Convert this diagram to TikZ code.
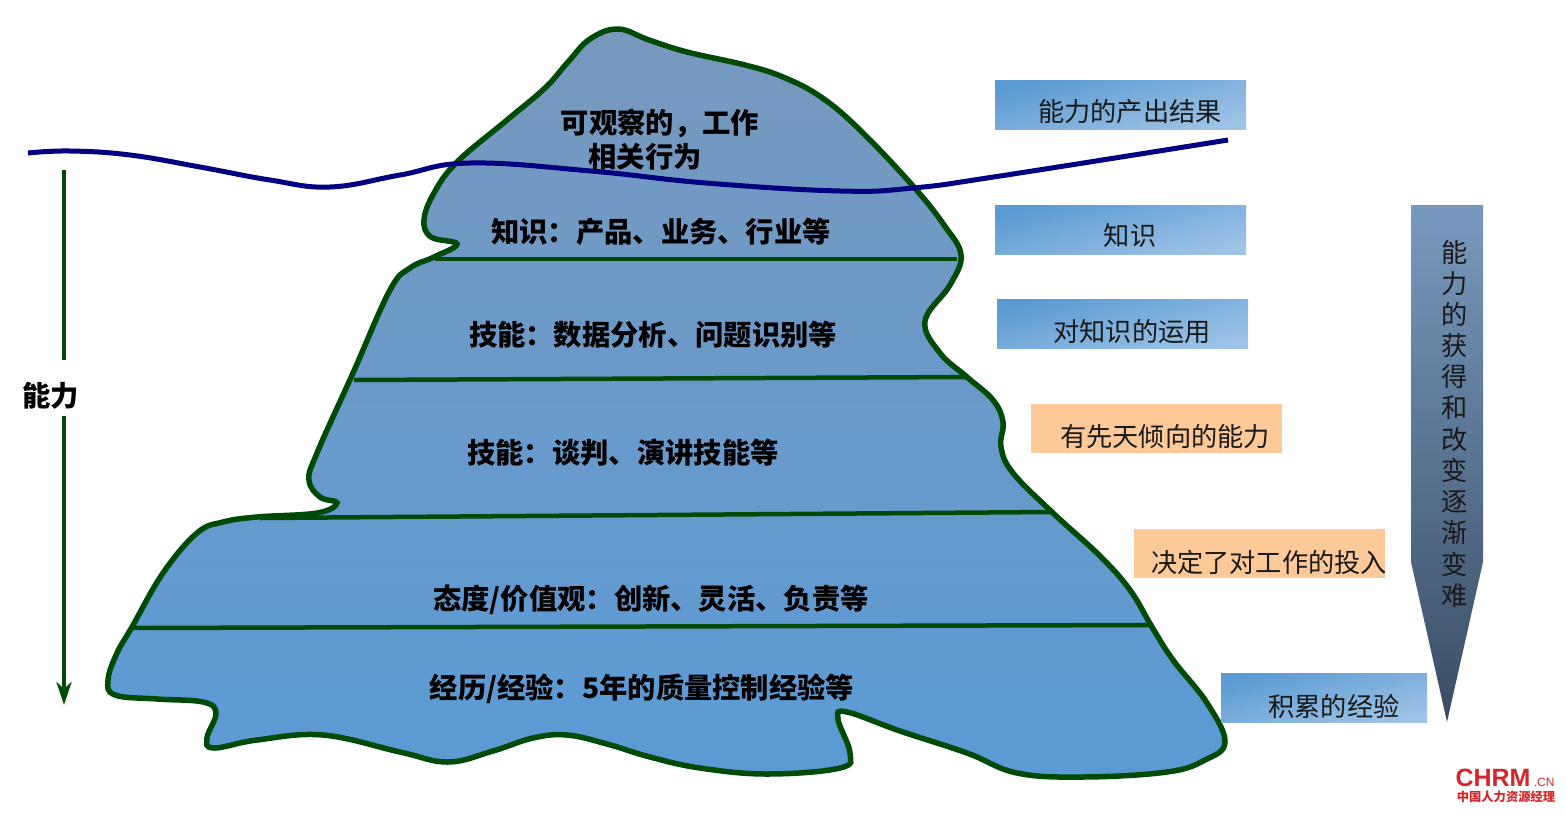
\documentclass[tikz,border=0pt]{standalone}
\usepackage{fontspec}
\setmainfont{Liberation Sans}
\newfontfamily\cjk{Noto Sans CJK SC}
\usetikzlibrary{positioning,arrows.meta}
\definecolor{bergtop}{HTML}{7899BE}
\definecolor{bergbot}{HTML}{5B9AD5}
\definecolor{berggreen}{HTML}{004A08}
\definecolor{sealine}{HTML}{000080}
\definecolor{boxa}{HTML}{5B9AD2}
\definecolor{boxb}{HTML}{9DC3E6}
\definecolor{boxorange}{HTML}{FDC998}
\definecolor{arrowtip}{HTML}{3A4C63}
\definecolor{logored}{HTML}{D4262A}
\tikzset{
	layertext/.style={font=\cjk\bfseries\fontsize{28.3}{32}\selectfont, inner sep=0},
	sidetext/.style={font=\cjk\fontsize{26.2}{30}\selectfont, inner sep=0, text=black!90},
	layerline/.style={draw=berggreen, line width=4.5pt},
	abilityline/.style={draw=berggreen, line width=4pt},
	bluebox/.style={shading=axis, left color=boxa, right color=boxb, shading angle=15},
}
\begin{document}
\begin{tikzpicture}[x=1pt,y=-1pt]
	\useasboundingbox (0,0) rectangle (1566,815);
	% iceberg
	\draw[berggreen, line width=5.5pt, top color=bergtop, bottom color=bergbot]
		plot[smooth cycle, tension=0.65] coordinates {
		(618,29) (649,40) (687,52) (745,65) (783,77) (821,97) (860,130) (913,186)
		(944,225) (961,255) (950,285) (925,321) (940,353) (967,377) (993,400)
		(1003,422) (1001,447) (1013,473) (1053,513) (1100,556) (1130,590) (1152,627)
		(1173,660) (1207,703) (1225,742) (1205,760) (1167,772) (1083,777) (1017,773)
		(967,753) (900,731) (847,712) (838,719) (850,753) (840,768)
		(767,774) (700,768) (650,757) (607,744) (567,735) (533,738) (493,751)
		(448,762) (400,752) (323,735) (257,740) (214,748) (207,738) (216,713) (203,702)
		(157,699) (115,695) (108,680) (117,653) (132,627) (163,573) (197,533) (223,522)
		(257,517) (317,513) (337,503) (320,497) (309,480) (317,453) (353,373) (390,290)
		(410,268) (434,257) (457,244) (431,237) (424,220) (434,193) (457,162) (507,120)
		(545,88) (568,62) (590,39)};
	% layers
	\foreach \n/\xa/\ya/\xb/\yb in {1/435/259/957/259,2/354/380/968/377,3/260/518/1053/512,4/130/628/1153/625} {
		\coordinate (la\n) at (\xa,\ya);
		\coordinate (lb\n) at (\xb,\yb);
		\draw[layerline] (la\n) -- (lb\n);
	};
	% sea level
	\draw[sealine, line width=5pt] plot[smooth, tension=0.7] coordinates {
		(28,153) (70,151) (130,155) (200,167) (270,180) (330,187) (400,175) (470,163)
		(591,171) (706,183) (840,191) (913,188) (1000,176) (1228,140)};
	\node[layertext] (obs1) at (660,123) {可观察的，工作};
	\node[layertext] (obs2) at (645,157) {相关行为};
	\foreach \x/\y/\t in {661/232/{知识：产品、业务、行业等},653/335/{技能：数据分析、问题识别等},623/453/{技能：谈判、演讲技能等},651/600/{态度/价值观：创新、灵活、负责等},642/689/{经历/经验：5年的质量控制经验等}} {
		\node[layertext] at (\x,\y) {\t};
	};
	% side boxes
	\foreach \n/\xa/\ya/\xb/\yb/\tx/\ty/\t in {
		a/995/80/1246/129/1130/112/能力的产出结果,
		b/995/205/1246/254/1130/236/知识,
		c/997/299/1248/348/1132/332/对知识的运用,
		f/1221/673/1427/722/1334/706/积累的经验} {
		\path[bluebox] (\xa,\ya) rectangle (\xb,\yb);
		\node[sidetext] (box\n) at (\tx,\ty) {\t};
	};
	\foreach \n/\xa/\ya/\xb/\yb/\tx/\ty/\t in {
		d/1031/404/1282/453/1165/437/有先天倾向的能力,
		e/1134/529/1385/578/1269/562/决定了对工作的投入} {
		\fill[boxorange] (\xa,\ya) rectangle (\xb,\yb);
		\node[sidetext] (box\n) at (\tx,\ty) {\t};
	};
	% difficulty arrow
	\path[top color=bergtop, bottom color=arrowtip]
		(1411,205) -- (1483,205) -- (1483,562) -- (1447,722) -- (1411,562) -- cycle;
	\foreach \i/\t in {0/能,1/力,2/的,3/获,4/得,5/和,6/改,7/变,8/逐,9/渐,10/变,11/难} {
		\node[sidetext] at (1455,252+31.2*\i) {\t};
	};
	% left arrow
	\node[layertext] (ability) at (51,396) {能力};
	\coordinate (arrtop) at (64,170);
	\coordinate (arrgapa) at (64,360);
	\coordinate (arrgapb) at (64,416);
	\coordinate (arrbot) at (64,705);
	\draw[abilityline] (arrtop) -- (arrgapa);
	\draw[abilityline, -{Stealth[length=23pt,width=15pt,inset=7pt]}] (arrgapb) -- (arrbot);
	% logo
	\node[inner sep=0, text=logored, font=\bfseries\fontsize{25}{25}\selectfont] (chrm) at (1493,778) {CHRM};
	\node[inner sep=0, text=logored, font=\fontsize{12}{12}\selectfont, right=3pt of chrm.south east, anchor=south west] (cn) {.CN};
	\node[inner sep=0, text=logored, font=\cjk\bfseries\fontsize{12.3}{13}\selectfont] (cname) at (1506,797) {中国人力资源经理};
\end{tikzpicture}
\end{document}
